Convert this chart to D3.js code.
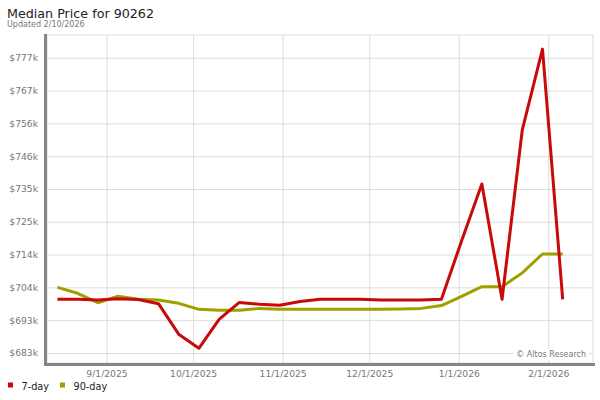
<!DOCTYPE html>
<html>
<head>
<meta charset="utf-8">
<script src="https://cdn.jsdelivr.net/npm/d3@7"></script>
<style>
  html, body { margin: 0; padding: 0; background: #fff; }
  svg { display: block; font-family: "DejaVu Sans", Verdana, sans-serif; }
</style>
</head>
<body>
<svg id="chart" width="600" height="400"></svg>
<script>
const titleText = "Median Price for 90262";
const subtitleText = "Updated 2/10/2026";
const watermarkText = "© Altos Research";

const dates = [
  "2025-08-15","2025-08-22","2025-08-29","2025-09-05","2025-09-12","2025-09-19",
  "2025-09-26","2025-10-03","2025-10-10","2025-10-17","2025-10-24","2025-10-31",
  "2025-11-07","2025-11-14","2025-11-21","2025-11-28","2025-12-05","2025-12-12",
  "2025-12-19","2025-12-26","2026-01-02","2026-01-09","2026-01-16","2026-01-23",
  "2026-01-30","2026-02-06"
];
const sevenDay = [
  700100, 700100, 699900, 700300, 700000, 698700,
  689000, 684500, 693700, 699100, 698500, 698200,
  699400, 700100, 700100, 700100, 699900, 699900,
  699900, 700100, 718700, 736800, 700100, 754000,
  779700, 700100
];
const ninetyDay = [
  703900, 702000, 699000, 701100, 700100, 699900,
  698800, 696900, 696600, 696600, 697200, 696900,
  696900, 696900, 696900, 696900, 696900, 697000,
  697200, 698100, 701000, 704100, 704100, 708500,
  714500, 714500
];
const seriesNames = ["7-day", "90-day"];
const seriesColors = ["#c80a0a", "#a19f00"];
const yTickValues = [683000, 693440, 703880, 714320, 724760, 735200, 745640, 756080, 766520, 776960];
const xTickDates = ["2025-09-01","2025-10-01","2025-11-01","2025-12-01","2026-01-01","2026-02-01"];
const xTickLabels = ["9/1/2025","10/1/2025","11/1/2025","12/1/2025","1/1/2026","2/1/2026"];

const svg = d3.select("#chart");
const plot = { left: 47, right: 593, top: 35, bottom: 363 };

const parse = d3.utcParse("%Y-%m-%d");
const x = d3.scaleUtc()
  .domain([parse(dates[0]), parse(dates[dates.length - 1])])
  .range([57.4, 562.7]);
const y = d3.scaleLinear()
  .domain([679500, 784200])
  .range([364, 35]);

// Title
svg.append("text").attr("x", 7).attr("y", 18)
  .attr("font-size", 12.7).attr("fill", "#222").text(titleText);
svg.append("text").attr("x", 7).attr("y", 27)
  .attr("font-size", 8).attr("fill", "#777").text(subtitleText);

// Plot background & frame
svg.append("rect").attr("x", plot.left).attr("y", plot.top)
  .attr("width", plot.right - plot.left).attr("height", plot.bottom - plot.top)
  .attr("fill", "#fff").attr("stroke", "#dcdcdc").attr("stroke-width", 1);

// Horizontal grid + y labels
const yAxis = d3.axisLeft(y).tickValues(yTickValues)
  .tickSize(-(plot.right - plot.left))
  .tickFormat(v => "$" + Math.round(v / 1000) + "k");
const gy = svg.append("g").attr("transform", `translate(${plot.left},0)`).call(yAxis);
gy.select(".domain").remove();
gy.selectAll(".tick line").attr("stroke", "#dcdcdc").attr("stroke-width", 1);
gy.selectAll(".tick text").attr("x", -9).attr("font-size", 9.2)
  .attr("fill", "#777").attr("font-family", "DejaVu Sans, sans-serif");

// Vertical grid + x labels
const xAxis = d3.axisBottom(x).tickValues(xTickDates.map(parse))
  .tickSize(-(plot.bottom - plot.top))
  .tickFormat((d, i) => xTickLabels[i]);
const gx = svg.append("g").attr("transform", `translate(0,${plot.bottom})`).call(xAxis);
gx.select(".domain").remove();
gx.selectAll(".tick line").attr("stroke", "#dcdcdc").attr("stroke-width", 1);
gx.selectAll(".tick text").attr("y", 14).attr("dy", 0).attr("font-size", 9.2)
  .attr("fill", "#777").attr("font-family", "DejaVu Sans, sans-serif");

// Watermark
const wm = svg.append("g");
const wmText = wm.append("text").attr("x", 586).attr("y", 357)
  .attr("text-anchor", "end").attr("font-size", 8).attr("fill", "#777")
  .text(watermarkText);
const bb = wmText.node().getBBox();
wm.insert("rect", "text").attr("x", bb.x - 3).attr("y", bb.y - 1)
  .attr("width", bb.width + 6).attr("height", bb.height + 2).attr("fill", "#fff");

// Lines
const line = d3.line().x((d, i) => x(parse(dates[i]))).y(d => y(d));
[ninetyDay, sevenDay].forEach((s, k) => {
  const idx = k === 0 ? 1 : 0;
  svg.append("path").datum(s).attr("d", line)
    .attr("fill", "none").attr("stroke", seriesColors[idx])
    .attr("stroke-width", 3).attr("stroke-linejoin", "round");
});

// Axis bars
svg.append("rect").attr("x", 44).attr("y", 34).attr("width", 3).attr("height", 332).attr("fill", "#858585");
svg.append("rect").attr("x", 44).attr("y", 363).attr("width", 551).attr("height", 3).attr("fill", "#858585");

// Legend
const legend = svg.append("g");
const legendX = [8, 60];
seriesNames.forEach((n, i) => {
  legend.append("rect").attr("x", legendX[i]).attr("y", 382.5).attr("width", 5).attr("height", 5)
    .attr("fill", seriesColors[i]);
  legend.append("text").attr("x", legendX[i] + 13.5).attr("y", 389.5)
    .attr("font-size", 9.7).attr("fill", "#222").text(n);
});
</script>
</body>
</html>
